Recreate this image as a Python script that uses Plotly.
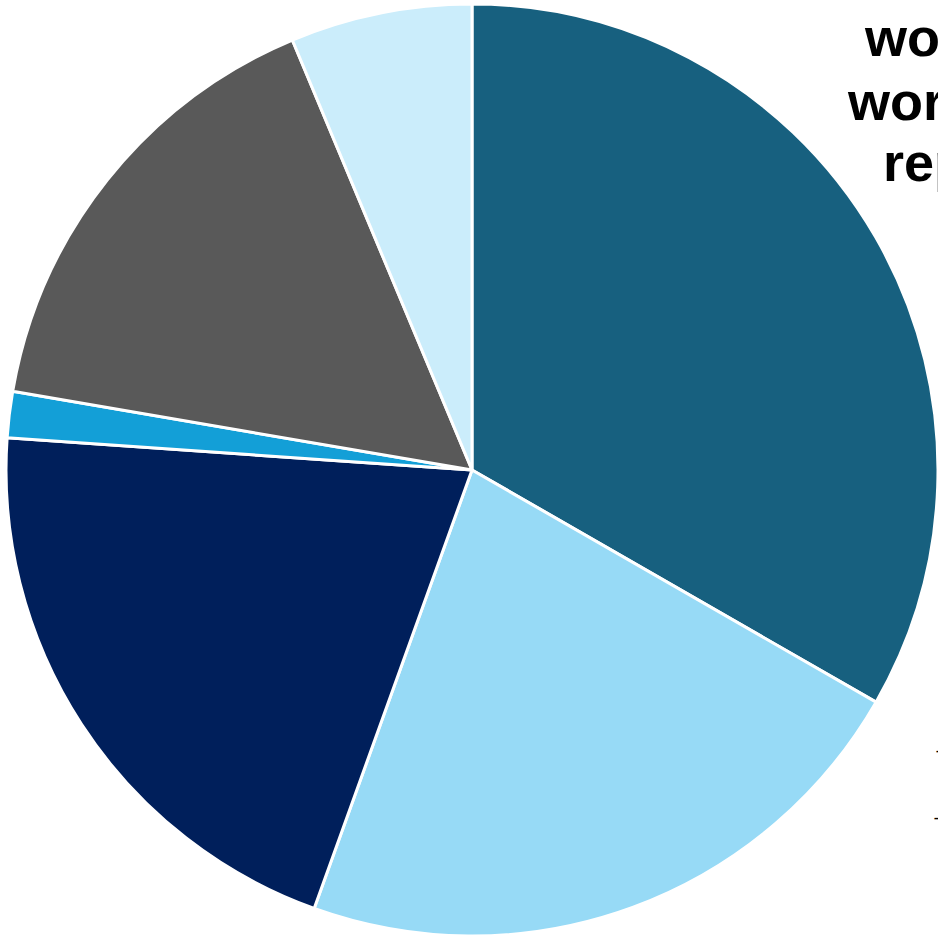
import plotly.graph_objects as go

categories = ["Segment A", "Segment B", "Segment C", "Segment D", "Segment E", "Segment F"]
values = [33.3, 22.2, 20.6, 1.6, 16.0, 6.3]
colors = ["#17607F", "#97DAF6", "#001F5B", "#139FD7", "#595959", "#CBEDFB"]

fig = go.Figure(
    go.Pie(
        labels=categories,
        values=values,
        sort=False,
        direction="clockwise",
        rotation=0,
        textinfo="none",
        hoverinfo="label+percent",
        marker=dict(colors=colors, line=dict(color="white", width=3)),
        domain=dict(x=[0.0064, 1.0], y=[0.0, 1.0]),
        showlegend=False,
    )
)

font = dict(family="Liberation Sans, Arial, sans-serif", size=54, color="black")
title_lines = [("workers", 862, 37), ("working", 845, 101), ("reported", 881, 162)]
for txt, xp, yp in title_lines:
    fig.add_annotation(
        text="<b>%s</b>" % txt, x=xp / 938, y=1 - yp / 940, xref="paper", yref="paper",
        xanchor="left", yanchor="middle", showarrow=False, font=font, align="left",
    )
for yp, xp in [(751, 934), (818, 932)]:
    fig.add_annotation(
        text="<b>–</b>", x=xp / 938, y=1 - yp / 940, xref="paper", yref="paper",
        xanchor="left", yanchor="middle", showarrow=False,
        font=dict(family="Liberation Sans, Arial, sans-serif", size=14, color="black"),
    )

fig.update_layout(
    width=938, height=940,
    margin=dict(l=0, r=0, t=0, b=0),
    paper_bgcolor="white", plot_bgcolor="white",
)
fig.write_html("out.html", config={"displayModeBar": False},
               post_script="document.body.style.margin='0';")
